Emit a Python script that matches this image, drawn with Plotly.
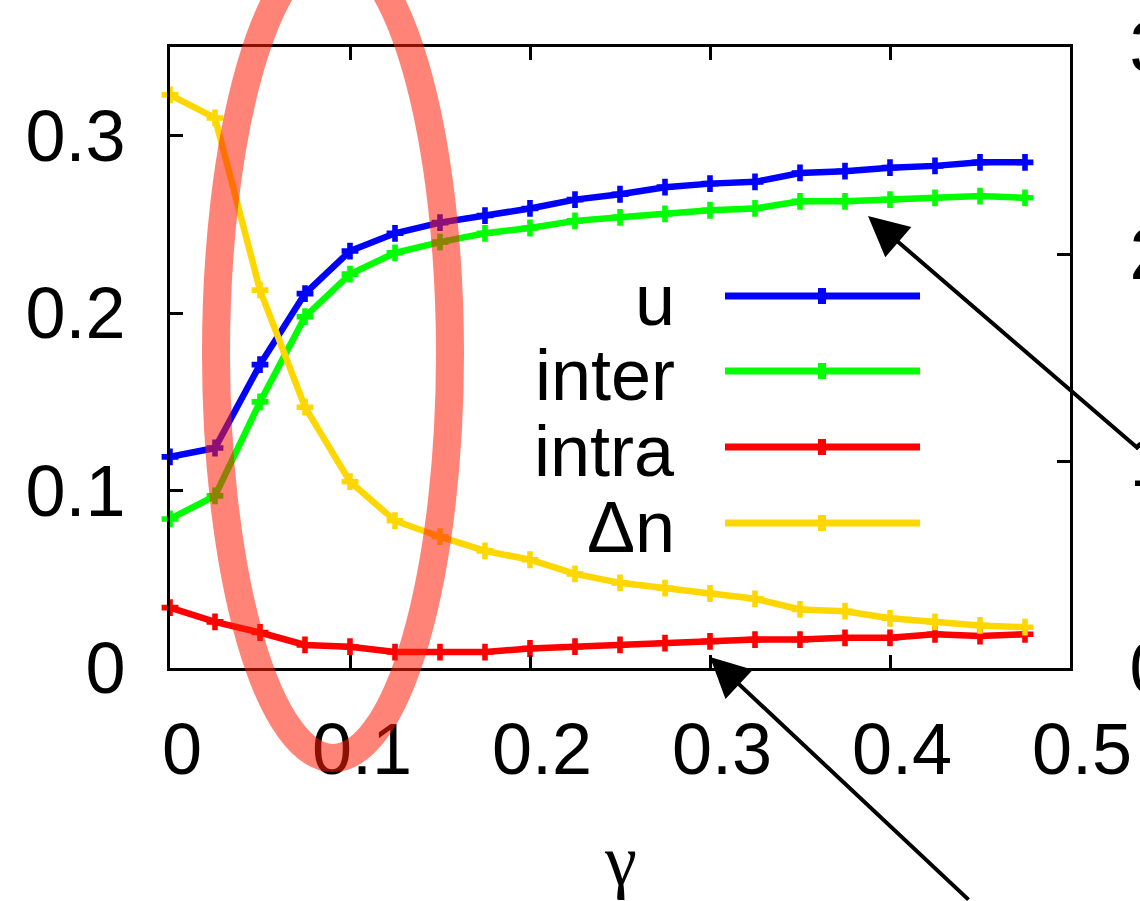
import plotly.graph_objects as go

# ---------------- data ----------------
gamma = [0.0, 0.025, 0.05, 0.075, 0.1, 0.125, 0.15, 0.175, 0.2, 0.225,
         0.25, 0.275, 0.3, 0.325, 0.35, 0.375, 0.4, 0.425, 0.45, 0.475]
u = [0.119, 0.124, 0.171, 0.211, 0.235, 0.245, 0.251, 0.255, 0.259, 0.264,
     0.267, 0.271, 0.273, 0.274, 0.279, 0.280, 0.282, 0.283, 0.285, 0.285]
inter = [0.084, 0.097, 0.150, 0.198, 0.222, 0.234, 0.240, 0.245, 0.248, 0.252,
         0.254, 0.256, 0.258, 0.259, 0.263, 0.263, 0.264, 0.265, 0.266, 0.265]
intra = [0.034, 0.026, 0.020, 0.013, 0.012, 0.009, 0.009, 0.009, 0.011, 0.012,
         0.013, 0.014, 0.015, 0.016, 0.016, 0.017, 0.017, 0.019, 0.018, 0.019]
dn = [0.323, 0.310, 0.213, 0.147, 0.105, 0.083, 0.074, 0.066, 0.061, 0.053,
      0.048, 0.045, 0.042, 0.039, 0.033, 0.032, 0.028, 0.026, 0.024, 0.023]

series_names = ["u", "inter", "intra", "\u0394n"]
series_values = [u, inter, intra, dn]
series_colors = ["#0000FF", "#00FF00", "#FF0000", "#FFD700"]

x_ticks = [0, 0.1, 0.2, 0.3, 0.4, 0.5]
x_ticktext = ["0", "0.1", "0.2", "0.3", "0.4", "0.5"]
y_ticks = [0, 0.1, 0.2, 0.3]
y_ticktext = ["0", "0.1", "0.2", "0.3"]
y2_ticks = [0, 1, 2, 3]
y2_ticktext = ["0", "1", "2", "3"]

# ---------------- layout geometry ----------------
W, H = 1140, 901
L, R, T, B = 170, 70, 47, 233
PW, PH = W - L - R, H - T - B
FONT = "Liberation Sans, Arial, sans-serif"
FS = 72


def px(xp):
    return (xp - L) / PW


def py(yp):
    return (T + PH - yp) / PH


fig = go.Figure()
for name, vals, col in zip(series_names, series_values, series_colors):
    fig.add_trace(go.Scatter(
        x=gamma, y=vals, mode="lines+markers", name=name,
        line=dict(color=col, width=6.5),
        marker=dict(symbol="cross", size=14, color=col, line=dict(width=0)),
        showlegend=False, cliponaxis=False))

# dummy trace to register the right-hand axis
fig.add_trace(go.Scatter(x=[None], y=[None], yaxis="y2", showlegend=False,
                         hoverinfo="skip"))

shapes = []
annotations = []

# legend (gnuplot style: text left, sample right)
legend_rows = [296, 371, 447, 523]
for name, col, yr in zip(series_names, series_colors, legend_rows):
    shapes.append(dict(type="line", xref="paper", yref="paper",
                       x0=px(725), x1=px(920), y0=py(yr), y1=py(yr),
                       line=dict(color=col, width=7)))
    shapes.append(dict(type="rect", xref="paper", yref="paper",
                       x0=px(818), x1=px(826), y0=py(yr - 8), y1=py(yr + 8),
                       fillcolor=col, line=dict(width=0)))
    annotations.append(dict(text=name, xref="paper", yref="paper",
                            x=px(677), y=py(yr + 4), xanchor="right",
                            yanchor="middle", showarrow=False,
                            font=dict(family=FONT, size=FS, color="black")))

# red highlight ellipse (drawn over the lines)
shapes.append(dict(type="circle", xref="paper", yref="paper", layer="above",
                   x0=px(216), x1=px(450), y0=py(758), y1=py(-51),
                   line=dict(color="rgba(255,30,5,0.55)", width=28)))

# arrows
annotations.append(dict(text="", xref="paper", yref="paper",
                        x=px(868), y=py(216), ax=300, ay=234,
                        showarrow=True, arrowhead=2, arrowsize=2.0,
                        arrowwidth=4, arrowcolor="black", standoff=0))
annotations.append(dict(text="", xref="paper", yref="paper",
                        x=px(710), y=py(657), ax=260, ay=270,
                        showarrow=True, arrowhead=2, arrowsize=2.0,
                        arrowwidth=4, arrowcolor="black", standoff=0))

# x label
annotations.append(dict(text="\u03b3", xref="paper", yref="paper",
                        x=0.5, y=py(861), xanchor="center", yanchor="middle",
                        showarrow=False,
                        font=dict(family="Liberation Serif, Times New Roman, serif",
                                  size=72, color="black")))

axis_common = dict(showgrid=False, zeroline=False, showline=True,
                   linecolor="black", linewidth=3, ticks="inside",
                   ticklen=13, tickwidth=2.5, tickcolor="black",
                   automargin=False,
                   tickfont=dict(family=FONT, size=FS, color="black"))

fig.update_layout(
    width=W, height=H,
    margin=dict(l=L, r=R, t=T, b=B, pad=0, autoexpand=False),
    paper_bgcolor="white", plot_bgcolor="white",
    xaxis=dict(range=[0, 0.5], tickvals=x_ticks, ticktext=x_ticktext,
               mirror="ticks", ticklabelstandoff=17, ticklabelshift=12,
               **axis_common),
    yaxis=dict(range=[0, 0.35], tickvals=y_ticks, ticktext=y_ticktext,
               mirror=True, ticklabelstandoff=27, **axis_common),
    yaxis2=dict(range=[0, 3], tickvals=y2_ticks, ticktext=y2_ticktext,
                overlaying="y", side="right", ticklabelstandoff=42,
                **axis_common),
    shapes=shapes,
    annotations=annotations,
)

fig.write_html("out.html")
